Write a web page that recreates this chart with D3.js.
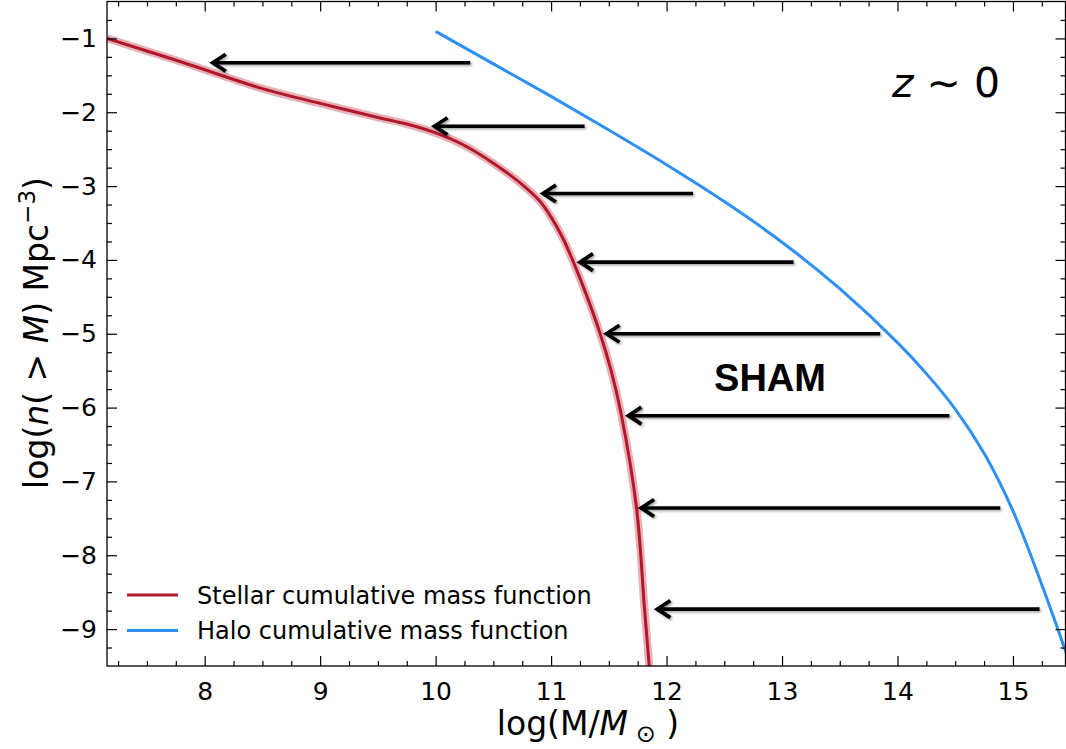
<!DOCTYPE html>
<html><head><meta charset="utf-8">
<script src="https://cdn.jsdelivr.net/npm/d3@7"></script>
<style>
body{margin:0;background:#fff}
svg{display:block}
text{font-family:"DejaVu Sans",sans-serif;fill:#000}
</style>
</head><body>
<svg id="chart" width="1066" height="749"></svg>
<script>
// ---- data ----
const stellarX = [7.154, 7.8, 8.5, 9.0, 9.5, 9.75, 10.0, 10.25, 10.5, 10.75, 10.9, 11.0, 11.1, 11.18, 11.3, 11.425, 11.52, 11.61, 11.74, 11.81, 11.85, 11.86];
const stellarY = [-1.00, -1.32, -1.68, -1.88, -2.07, -2.16, -2.28, -2.45, -2.69, -2.98, -3.20, -3.42, -3.70, -3.98, -4.45, -5.00, -5.50, -6.11, -7.36, -8.74, -9.50, -9.70];
const haloX = [10.0, 10.5, 11.0, 11.5, 12.0, 12.5, 13.0, 13.5, 14.0, 14.25, 14.5, 14.75, 15.0, 15.25, 15.5];
const haloY = [-0.905, -1.345, -1.785, -2.24, -2.71, -3.21, -3.76, -4.39, -5.12, -5.54, -6.02, -6.62, -7.40, -8.40, -9.50];
const arrowY    = [-1.33, -2.19, -3.10, -4.03, -5.00, -6.11, -7.36, -8.73];
const arrowTail = [10.30, 11.29, 12.23, 13.10, 13.85, 14.45, 14.89, 15.23];
const arrowTip  = [8.07, 9.99, 10.93, 11.25, 11.48, 11.67, 11.78, 11.92];
const xTicks = [8, 9, 10, 11, 12, 13, 14, 15];
const yTicks = [-1, -2, -3, -4, -5, -6, -7, -8, -9];
const xDomain = [7.154, 15.455];
const yDomain = [-9.5, -0.5];
const legendLabels = ["Stellar cumulative mass function", "Halo cumulative mass function"];

// ---- layout ----
const L = 107, R = 1065.5, T = 1.5, B = 666;
const red = "#b2182b", blue = "#2e8ff5";
const svg = d3.select("#chart");
const x = d3.scaleLinear().domain(xDomain).range([L, R]);
const y = d3.scaleLinear().domain(yDomain).range([B, T]);

const defs = svg.append("defs");
defs.append("clipPath").attr("id", "clip").append("rect")
  .attr("x", L).attr("y", T).attr("width", R - L).attr("height", B - T);
const f = defs.append("filter").attr("id", "shadow").attr("x", "-10%").attr("y", "-50%").attr("width", "120%").attr("height", "200%");
f.append("feDropShadow").attr("dx", 1.5).attr("dy", 1.5).attr("stdDeviation", 1.2)
  .attr("flood-color", "#000").attr("flood-opacity", 0.35);

const minorX = d3.range(7.25, 15.46, 0.25).filter(v => Math.abs(v - Math.round(v)) > 1e-6);
const minorY = d3.range(-9.25, -0.5, 0.25).filter(v => Math.abs(v - Math.round(v)) > 1e-6);

const plot = svg.append("g").attr("clip-path", "url(#clip)");

// curves
const line = d3.line().x(d => x(d[0])).y(d => y(d[1])).curve(d3.curveCatmullRom.alpha(0.5));
const stellar = stellarX.map((v, i) => [v, stellarY[i]]);
const halo = haloX.map((v, i) => [v, haloY[i]]);
plot.append("path").attr("d", line(stellar)).attr("fill", "none")
  .attr("stroke", "#e2a3aa").attr("stroke-width", 8).attr("stroke-opacity", 0.85);
plot.append("path").attr("d", line(stellar)).attr("fill", "none")
  .attr("stroke", red).attr("stroke-width", 3);
plot.append("path").attr("d", line(halo)).attr("fill", "none")
  .attr("stroke", blue).attr("stroke-width", 3);

// arrows
const ag = svg.append("g").attr("filter", "url(#shadow)");
arrowY.forEach((v, i) => {
  const ty = y(v), tx = x(arrowTip[i]), ex = x(arrowTail[i]);
  ag.append("line").attr("x1", tx + 1).attr("x2", ex).attr("y1", ty).attr("y2", ty)
    .attr("stroke", "#000").attr("stroke-width", 3.6);
  ag.append("path").attr("d", `M${tx + 13},${ty - 8.5}L${tx},${ty}L${tx + 13},${ty + 8.5}`)
    .attr("fill", "none").attr("stroke", "#000").attr("stroke-width", 3.8)
    .attr("stroke-linejoin", "miter").attr("stroke-linecap", "butt");
});

// axes
function styleAxis(g) {
  g.selectAll(".domain").remove();
  g.selectAll(".tick line").attr("stroke", "#000").attr("stroke-width", 1.2);
}
const fmt = d3.format("d");
svg.append("g").attr("transform", `translate(0,${B})`)
  .call(d3.axisBottom(x).tickValues(xTicks).tickSize(-10).tickPadding(16).tickFormat(fmt))
  .call(styleAxis)
  .call(g => g.selectAll("text").attr("font-size", 25).attr("font-family", "DejaVu Sans").attr("dy", "0.71em"));
svg.append("g").attr("transform", `translate(0,${B})`)
  .call(d3.axisBottom(x).tickValues(minorX).tickSize(-5).tickFormat(""))
  .call(styleAxis);
svg.append("g").attr("transform", `translate(0,${T})`)
  .call(d3.axisTop(x).tickValues(xTicks).tickSize(-10).tickFormat(""))
  .call(styleAxis);
svg.append("g").attr("transform", `translate(0,${T})`)
  .call(d3.axisTop(x).tickValues(minorX).tickSize(-5).tickFormat(""))
  .call(styleAxis);
svg.append("g").attr("transform", `translate(${L},0)`)
  .call(d3.axisLeft(y).tickValues(yTicks).tickSize(-10).tickPadding(10).tickFormat(fmt))
  .call(styleAxis)
  .call(g => g.selectAll("text").attr("font-size", 25).attr("font-family", "DejaVu Sans"));
svg.append("g").attr("transform", `translate(${L},0)`)
  .call(d3.axisLeft(y).tickValues(minorY).tickSize(-5).tickFormat(""))
  .call(styleAxis);
svg.append("g").attr("transform", `translate(${R},0)`)
  .call(d3.axisRight(y).tickValues(yTicks).tickSize(-10).tickFormat(""))
  .call(styleAxis);
svg.append("g").attr("transform", `translate(${R},0)`)
  .call(d3.axisRight(y).tickValues(minorY).tickSize(-5).tickFormat(""))
  .call(styleAxis);

// frame
svg.append("rect").attr("x", L).attr("y", T).attr("width", R - L).attr("height", B - T)
  .attr("fill", "none").attr("stroke", "#000").attr("stroke-width", 1.3);

// axis labels
const xl = svg.append("text").attr("x", 588).attr("y", 735).attr("text-anchor", "middle").attr("font-size", 33);
xl.append("tspan").text("log(M/");
xl.append("tspan").attr("font-style", "italic").text("M");
xl.append("tspan").attr("font-size", 24).attr("dy", 7).text(" ⊙");
xl.append("tspan").attr("dy", -7).text(" )");

const yl = svg.append("text").attr("transform", "translate(48,333) rotate(-90)")
  .attr("text-anchor", "middle").attr("font-size", 33);
yl.append("tspan").text("log(");
yl.append("tspan").attr("font-style", "italic").text("n");
yl.append("tspan").text("( > ");
yl.append("tspan").attr("font-style", "italic").text("M");
yl.append("tspan").text(") Mpc");
yl.append("tspan").attr("font-size", 23).attr("dy", -13).text("−3");
yl.append("tspan").attr("dy", 13).text(")");

// annotations
const zt = svg.append("text").attr("x", 946).attr("y", 97).attr("text-anchor", "middle").attr("font-size", 41);
zt.append("tspan").attr("font-style", "italic").text("z");
zt.append("tspan").text(" ∼ 0");
svg.append("text").attr("x", 770).attr("y", 391).attr("text-anchor", "middle")
  .attr("font-weight", "bold").attr("font-size", 38)
  .style("font-family", "'Liberation Sans', Arial, sans-serif").text("SHAM");

// legend
const lg = svg.append("g");
[red, blue].forEach((c, i) => {
  const ly = 595 + i * 35.5;
  lg.append("line").attr("x1", 127).attr("x2", 178).attr("y1", ly).attr("y2", ly)
    .attr("stroke", c).attr("stroke-width", 3);
  lg.append("text").attr("x", 197).attr("y", ly).attr("dy", "0.36em").attr("font-size", 24)
    .text(legendLabels[i]);
});
</script>
</body></html>
